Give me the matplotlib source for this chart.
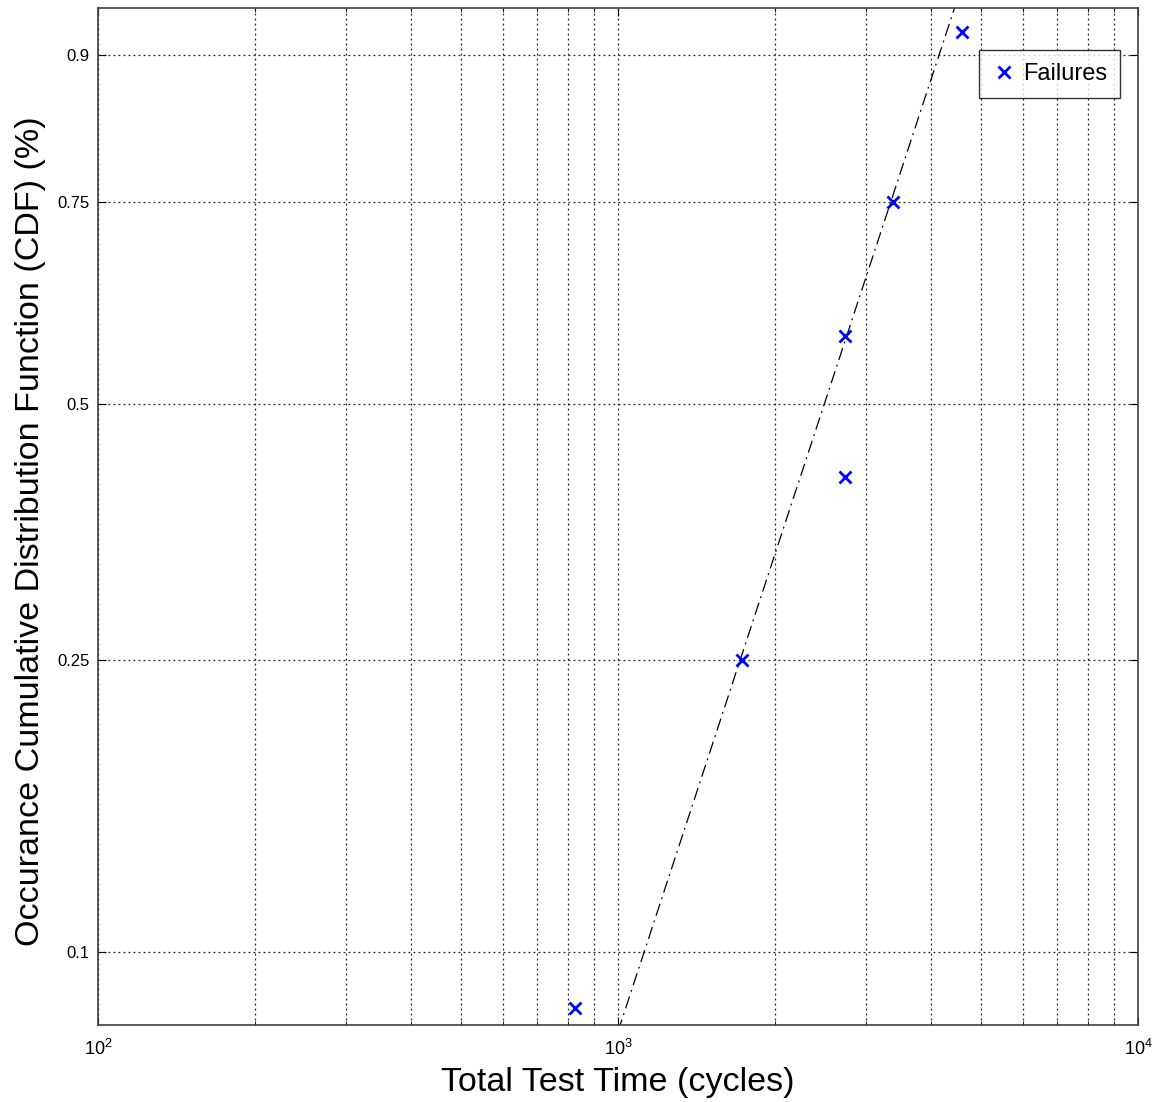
import numpy as np
import matplotlib
matplotlib.use("Agg")
import matplotlib.pyplot as plt
from matplotlib.ticker import FixedLocator, FixedFormatter, LogLocator, NullFormatter, NullLocator

plt.rcParams['font.family'] = ['Liberation Sans', 'DejaVu Sans']
plt.rcParams['mathtext.fontset'] = 'custom'
plt.rcParams['mathtext.rm'] = 'Liberation Sans'

# failure times (cycles) and median-rank CDF estimates
cycles = [826, 1732, 2733, 2733, 3381, 4586]
cdf = [1/12, 3/12, 5/12, 7/12, 9/12, 11/12]

# fitted Weibull parameters
beta = 2.36
eta = 2912.0
fit_start = 1000.0
fit_end = 6000.0

y_ticks = [0.1, 0.25, 0.5, 0.75, 0.9]
y_tick_labels = ['0.1', '0.25', '0.5', '0.75', '0.9']


def weib(p):
    p = np.clip(np.asarray(p, dtype=float), 1e-9, 1 - 1e-9)
    return np.log(-np.log(1 - p))


def weib_inv(w):
    return 1 - np.exp(-np.exp(np.asarray(w, dtype=float)))


fig = plt.figure(figsize=(11.61, 11.02), dpi=100)
ax = fig.add_axes([0.0844, 0.0699, 0.8958, 0.9229])
ax.set_xscale('log')
ax.set_yscale('function', functions=(weib, weib_inv))

xf = np.logspace(np.log10(fit_start), np.log10(fit_end), 200)
yf = 1 - np.exp(-(xf / eta) ** beta)
ax.plot(xf, yf, color='black', linestyle='-.', linewidth=0.9, dashes=(10, 4, 1.5, 4))

ax.plot(cycles, cdf, linestyle='none', marker='x', color='blue',
        markersize=9, markeredgewidth=2, label='Failures')

ax.set_xlim(100, 10000)
ax.set_ylim(0.0788, 0.933)

ax.xaxis.set_major_locator(LogLocator(base=10))
ax.xaxis.set_minor_locator(LogLocator(base=10, subs=np.arange(2, 10)))
ax.xaxis.set_minor_formatter(NullFormatter())
ax.yaxis.set_major_locator(FixedLocator(y_ticks))
ax.yaxis.set_major_formatter(FixedFormatter(y_tick_labels))
ax.yaxis.set_minor_locator(NullLocator())

ax.grid(True, which='both', axis='x', color='#202020', linestyle=(0, (1.5, 2.5)), linewidth=0.9)
ax.grid(True, which='major', axis='y', color='#202020', linestyle=(0, (1.5, 2.5)), linewidth=0.9)

ax.tick_params(which='both', direction='in', top=True, right=True, colors='black')
ax.tick_params(axis='x', which='major', labelsize=13, length=6, pad=10)
ax.tick_params(axis='y', which='major', labelsize=12, length=6, pad=6)
ax.tick_params(which='minor', length=3)
for s in ax.spines.values():
    s.set_color('#404040')
    s.set_linewidth(1.2)

ax.set_xlabel('Total Test Time (cycles)', fontsize=24.5, labelpad=6)
ax.set_ylabel('Occurance Cumulative Distribution Function (CDF) (%)', fontsize=24.5, labelpad=8)
ax.yaxis.label.set_y(0.486)

leg = ax.legend(loc='upper right', bbox_to_anchor=(0.9827, 0.9587), borderaxespad=0,
                fontsize=17, frameon=True, fancybox=False, edgecolor='black',
                handlelength=1.0, borderpad=0.55, handletextpad=0.3)
leg.get_frame().set_linewidth(1.0)

fig.savefig('out.png', dpi=100)
